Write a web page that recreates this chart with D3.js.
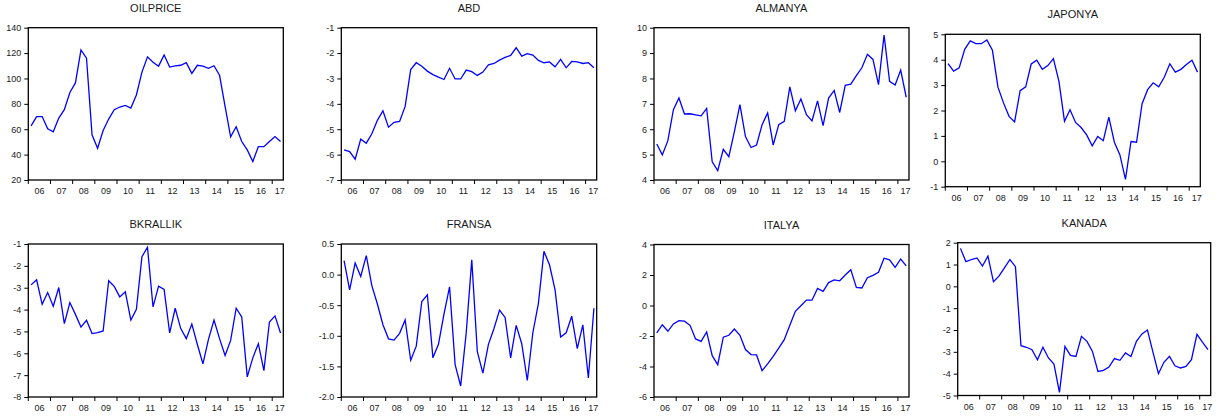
<!DOCTYPE html>
<html>
<head>
<meta charset="utf-8">
<script src="https://cdn.jsdelivr.net/npm/d3@7"></script>
<style>
  html, body { margin: 0; padding: 0; background: #fff; }
  svg { display: block; }
  text { font-family: "Liberation Sans", Arial, Helvetica, sans-serif; fill: #1a1a1a; }
</style>
</head>
<body>
<svg id="chart" width="1216" height="416"></svg>
<script>
// ---- categories (quarterly, 2006Q1 - 2017Q2) ----
const quarters = [
  "2006Q1","2006Q2","2006Q3","2006Q4","2007Q1","2007Q2","2007Q3","2007Q4",
  "2008Q1","2008Q2","2008Q3","2008Q4","2009Q1","2009Q2","2009Q3","2009Q4",
  "2010Q1","2010Q2","2010Q3","2010Q4","2011Q1","2011Q2","2011Q3","2011Q4",
  "2012Q1","2012Q2","2012Q3","2012Q4","2013Q1","2013Q2","2013Q3","2013Q4",
  "2014Q1","2014Q2","2014Q3","2014Q4","2015Q1","2015Q2","2015Q3","2015Q4",
  "2016Q1","2016Q2","2016Q3","2016Q4","2017Q1","2017Q2"
];
const yearStarts = ["2006Q1","2007Q1","2008Q1","2009Q1","2010Q1","2011Q1","2012Q1","2013Q1","2014Q1","2015Q1","2016Q1","2017Q1"];
const yearLabels = ["06","07","08","09","10","11","12","13","14","15","16","17"];

// ---- series values ----
const oilprice = [62.7,70,70,60.3,58,68.8,75.4,89,96.5,122.5,116,55.6,45,59,68,75.4,77.5,78.8,76.7,87,105,117,112.8,109.7,118.5,109,110,110.4,112.5,104,110.4,109.7,108,110,102.5,78,54,62,50.3,43.7,34.5,46.3,46.3,50.3,54.2,50.3];
const abd = [-5.81,-5.88,-6.18,-5.39,-5.55,-5.18,-4.65,-4.27,-4.92,-4.73,-4.69,-4.1,-2.65,-2.38,-2.52,-2.71,-2.85,-2.95,-3.04,-2.6,-3.02,-3.02,-2.67,-2.73,-2.88,-2.75,-2.46,-2.41,-2.28,-2.17,-2.09,-1.79,-2.12,-2.02,-2.08,-2.29,-2.38,-2.35,-2.54,-2.25,-2.58,-2.33,-2.35,-2.41,-2.38,-2.58];
const almanya = [5.42,4.99,5.55,6.77,7.23,6.6,6.61,6.57,6.53,6.82,4.72,4.37,5.21,4.92,5.91,6.97,5.71,5.28,5.38,6.18,6.64,5.38,6.18,6.31,7.67,6.73,7.19,6.57,6.33,7.12,6.14,7.23,7.53,6.66,7.73,7.78,8.11,8.42,8.95,8.75,7.76,9.71,7.89,7.74,8.33,7.26];
const japonya = [3.85,3.55,3.68,4.41,4.74,4.63,4.63,4.78,4.37,2.92,2.3,1.77,1.55,2.78,2.93,3.83,3.98,3.62,3.77,4.04,3.15,1.58,2.03,1.53,1.33,1.04,0.61,0.98,0.81,1.74,0.75,0.25,-0.71,0.78,0.75,2.27,2.82,3.09,2.93,3.31,3.84,3.51,3.62,3.81,3.98,3.51];
const bkrallik = [-2.87,-2.64,-3.76,-3.22,-3.85,-2.99,-4.64,-3.68,-4.22,-4.8,-4.49,-5.1,-5.05,-4.98,-2.68,-2.94,-3.42,-3.19,-4.48,-3.99,-1.58,-1.15,-3.88,-2.93,-3.08,-5.07,-3.94,-4.87,-5.33,-4.66,-5.6,-6.48,-5.36,-4.48,-5.33,-6.1,-5.41,-3.94,-4.34,-7.08,-6.21,-5.56,-6.79,-4.57,-4.29,-5.07];
const fransa = [0.23,-0.25,0.19,-0.03,0.31,-0.18,-0.48,-0.82,-1.05,-1.07,-0.96,-0.74,-1.4,-1.17,-0.44,-0.33,-1.36,-1.14,-0.64,-0.2,-1.47,-1.82,-0.95,0.24,-1.26,-1.61,-1.14,-0.88,-0.58,-0.7,-1.36,-0.83,-1.13,-1.73,-0.95,-0.47,0.38,0.16,-0.25,-1.02,-0.95,-0.68,-1.21,-0.82,-1.69,-0.55];
const italya = [-1.8,-1.26,-1.69,-1.21,-0.99,-1.03,-1.3,-2.19,-2.35,-1.73,-3.29,-3.88,-2.08,-1.95,-1.54,-1.95,-2.89,-3.22,-3.24,-4.27,-3.83,-3.33,-2.8,-2.24,-1.3,-0.38,-0.02,0.35,0.35,1.12,0.93,1.5,1.68,1.62,2.0,2.35,1.18,1.15,1.82,1.98,2.18,3.1,3.0,2.5,3.05,2.6];
const kanada = [1.74,1.13,1.23,1.3,0.93,1.39,0.21,0.47,0.85,1.23,0.9,-2.72,-2.79,-2.9,-3.36,-2.79,-3.28,-3.56,-4.86,-2.75,-3.16,-3.21,-2.29,-2.52,-2.98,-3.9,-3.85,-3.7,-3.31,-3.39,-3.05,-3.21,-2.52,-2.18,-2.0,-3.01,-4.0,-3.48,-3.21,-3.64,-3.74,-3.67,-3.36,-2.2,-2.56,-2.9];

// ---- tick labels per panel ----
const oilTicks = [20,40,60,80,100,120,140];
const abdTicks = [-7,-6,-5,-4,-3,-2,-1];
const almTicks = [4,5,6,7,8,9,10];
const japTicks = [-1,0,1,2,3,4,5];
const bkrTicks = [-8,-7,-6,-5,-4,-3,-2,-1];
const fraTicks = [-2.0,-1.5,-1.0,-0.5,0.0,0.5];
const itaTicks = [-6,-4,-2,0,2,4];
const kanTicks = [-5,-4,-3,-2,-1,0,1,2];

const titles = ["OILPRICE","ABD","ALMANYA","JAPONYA","BKRALLIK","FRANSA","ITALYA","KANADA"];

// ---- layout (frames) ----
const panels = [
  {title: titles[0], values: oilprice, ticks: oilTicks, fmt: d3.format("d"),   box: [28.3, 27.7, 283.3, 180]},
  {title: titles[1], values: abd,      ticks: abdTicks, fmt: d3.format("d"),   box: [341.3, 27.7, 596.7, 180]},
  {title: titles[2], values: almanya,  ticks: almTicks, fmt: d3.format("d"),   box: [654, 27.7, 909, 180]},
  {title: titles[3], values: japonya,  ticks: japTicks, fmt: d3.format("d"),   box: [945.3, 34.3, 1200.3, 186.7]},
  {title: titles[4], values: bkrallik, ticks: bkrTicks, fmt: d3.format("d"),   box: [28.3, 244, 283.3, 397]},
  {title: titles[5], values: fransa,   ticks: fraTicks, fmt: d3.format(".1f"), box: [341.3, 244, 596.7, 397]},
  {title: titles[6], values: italya,   ticks: itaTicks, fmt: d3.format("d"),   box: [654, 244.5, 909, 397]},
  {title: titles[7], values: kanada,   ticks: kanTicks, fmt: d3.format("d"),   box: [957.7, 242.7, 1210.7, 395.5]}
];

const svg = d3.select("#chart");
const hy = s => s.replace(/\u2212/g, "-");

panels.forEach(p => {
  const [L, T, R, B] = p.box;
  const g = svg.append("g");
  const x = d3.scaleBand().domain(quarters).range([L, R]).padding(0);
  const y = d3.scaleLinear().domain(d3.extent(p.ticks)).range([B, T]);
  const cx = q => x(q) + x.bandwidth() / 2;

  // title
  g.append("text")
    .attr("x", (L + R) / 2).attr("y", T - 16)
    .attr("text-anchor", "middle")
    .attr("font-size", 11)
    .text(p.title);

  // y axis
  const ya = g.append("g").attr("transform", `translate(${L},0)`)
    .call(d3.axisLeft(y).tickValues(p.ticks).tickSize(4).tickPadding(3).tickFormat(d => hy(p.fmt(d))));
  ya.select(".domain").remove();
  ya.selectAll("line").attr("stroke", "#000").attr("stroke-width", 1);
  ya.selectAll("text").attr("font-size", 9).style("font-family", "Liberation Sans, Arial, sans-serif").attr("fill", "#1a1a1a");

  // x ticks at year boundaries
  g.selectAll(".xt").data(yearStarts).join("line")
    .attr("x1", d => x(d)).attr("x2", d => x(d))
    .attr("y1", B).attr("y2", B + 4)
    .attr("stroke", "#000").attr("stroke-width", 1);
  g.selectAll(".xl").data(yearStarts).join("text")
    .attr("x", (d, i) => {
      const a = x(d);
      const b = i + 1 < yearStarts.length ? x(yearStarts[i + 1]) : R;
      return (a + b) / 2 + (i + 1 < yearStarts.length ? 0 : 2);
    })
    .attr("y", B + 14)
    .attr("text-anchor", "middle")
    .attr("font-size", 9)
    .text((d, i) => yearLabels[i]);

  // series line
  const line = d3.line().x((d, i) => cx(quarters[i])).y(d => y(d));
  g.append("path").datum(p.values)
    .attr("d", line)
    .attr("fill", "none")
    .attr("stroke", "#0000FF")
    .attr("stroke-width", 1.3)
    .attr("stroke-linejoin", "miter");

  // frame
  g.append("rect")
    .attr("x", L).attr("y", T).attr("width", R - L).attr("height", B - T)
    .attr("fill", "none").attr("stroke", "#000").attr("stroke-width", 1.3);
});
</script>
</body>
</html>
